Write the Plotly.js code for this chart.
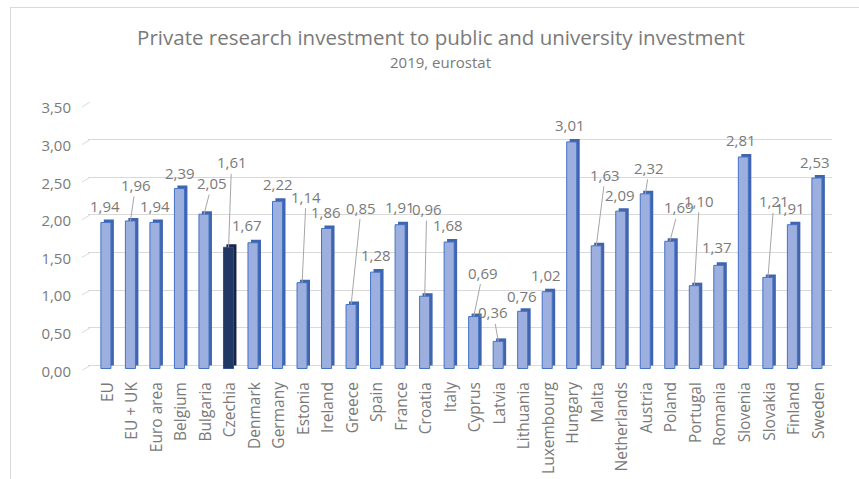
<!DOCTYPE html>
<html><head><meta charset="utf-8">
<script src="https://cdn.plot.ly/plotly-3.0.1.min.js"></script>
<style>
html,body{margin:0;padding:0;background:#fff;overflow:hidden;width:859px;height:479px}
#chart{position:absolute;left:0;top:0;width:859px;height:479px}
#frame{position:absolute;left:10px;top:7px;width:900px;height:520px;border:1px solid #d9d9d9;pointer-events:none}
</style></head><body>
<div id="chart"></div><div id="frame"></div>
<script>
const categories = ['EU','EU + UK','Euro area','Belgium','Bulgaria','Czechia','Denmark','Germany','Estonia','Ireland','Greece','Spain','France','Croatia','Italy','Cyprus','Latvia','Lithuania','Luxembourg','Hungary','Malta','Netherlands','Austria','Poland','Portugal','Romania','Slovenia','Slovakia','Finland','Sweden'];
const values = [1.94,1.96,1.94,2.39,2.05,1.61,1.67,2.22,1.14,1.86,0.85,1.28,1.91,0.96,1.68,0.69,0.36,0.76,1.02,3.01,1.63,2.09,2.32,1.69,1.10,1.37,2.81,1.21,1.91,2.53];
const highlighted = 'Czechia';
const titleText = 'Private research investment to public and university investment';
const subtitleText = '2019, eurostat';
const yTicks = [0,0.5,1,1.5,2,2.5,3,3.5];

// label placement (pixels, relative to the bar top) – layout only
const labelDx = [-1,5,0,0,8,3,-6,0,4,-1,10,0,0,2,-1,9,-5,-1,-1,-2,9,-1,4,9,5,-2,-2,6,-2,-2];
const labelDy = [-16,-36,-16,-16,-31,-85,-18,-17,-86,-16,-97,-17,-18,-87,-17,-44,-29,-15,-17,-17,-71,-16,-26,-34,-85,-18,-17,-76,-17,-16];
const leader =  [0,1,0,0,1,1,0,0,1,0,1,0,0,1,0,1,1,0,0,0,1,0,1,1,1,0,0,1,0,0];

const fmt = v => v.toFixed(2).replace('.', ',');
const FONT = 'Open Sans, Noto Sans, sans-serif';
const TXT = '#7a7a7a';

const frontColors = categories.map(c => c === highlighted ? '#203864' : '#9cafdf');
const sideColors  = categories.map(c => c === highlighted ? '#14244a' : '#4064ad');
const lineColors  = categories.map(c => c === highlighted ? '#2f4f8f' : '#4472c4');

const back = {
  type:'bar', x:categories, y:values, base:0, offset:-0.15, width:0.41,
  marker:{color:sideColors, line:{width:0}}, hoverinfo:'skip', showlegend:false
};
const front = {
  type:'bar', x:categories, y:values, base:-0.04, offset:-0.27, width:0.41,
  marker:{color:frontColors, line:{color:lineColors, width:1}}, hoverinfo:'skip', showlegend:false
};

const annotations = categories.map((c,i) => {
  const a = {
    x:c, y:values[i]-0.04, xref:'x', yref:'y', text:fmt(values[i]),
    font:{family:FONT, size:15, color:TXT}, xshift:-1.5
  };
  if (leader[i]) {
    Object.assign(a, {showarrow:true, ax:labelDx[i], ay:labelDy[i], arrowhead:0, arrowwidth:1, arrowcolor:'#a6a6a6', standoff:0, startstandoff:0});
  } else {
    Object.assign(a, {showarrow:false, xshift:labelDx[i]-1.5, yshift:-labelDy[i]});
  }
  return a;
});
annotations.push({
  text:subtitleText, xref:'paper', yref:'paper', x:(440-88)/744, y:(370.5-62)/268.5,
  xanchor:'center', yanchor:'middle', showarrow:false,
  font:{family:FONT, size:15, color:TXT}
});

const shapes = yTicks.map(v => ({
  type:'line', xref:'paper', yref:'y', xsizemode:'pixel', xanchor:0, x0:-6, x1:2,
  ysizemode:'pixel', yanchor:v, y0:-5, y1:0, line:{color:'#d9d9d9', width:1}, layer:'below'
}));

const layout = {
  width:859, height:479,
  margin:{l:88, r:27, t:102, b:108.5},
  paper_bgcolor:'#ffffff', plot_bgcolor:'#ffffff',
  barmode:'overlay',
  font:{family:FONT, color:TXT},
  title:{
    text:titleText, xref:'container', x:441/859, xanchor:'center',
    yref:'container', y:1-38/479, yanchor:'middle',
    font:{family:FONT, size:20.5, color:TXT}
  },
  xaxis:{
    type:'category', tickangle:-90, showgrid:false, zeroline:false, showline:false,
    ticks:'', tickfont:{family:FONT, size:15.5, color:TXT}, ticklabelstandoff:8, fixedrange:true, automargin:false
  },
  yaxis:{
    range:[-0.06,3.5], tickvals:yTicks, ticktext:yTicks.map(fmt),
    showgrid:true, gridcolor:'#d9d9d9', gridwidth:1, zeroline:false, showline:false,
    ticks:'', tickfont:{family:FONT, size:15, color:TXT}, ticklabelstandoff:16, ticklabelshift:6, fixedrange:true
  },
  annotations, shapes
};

Plotly.newPlot('chart', [back, front], layout, {displayModeBar:false, staticPlot:true});
</script>
</body></html>
